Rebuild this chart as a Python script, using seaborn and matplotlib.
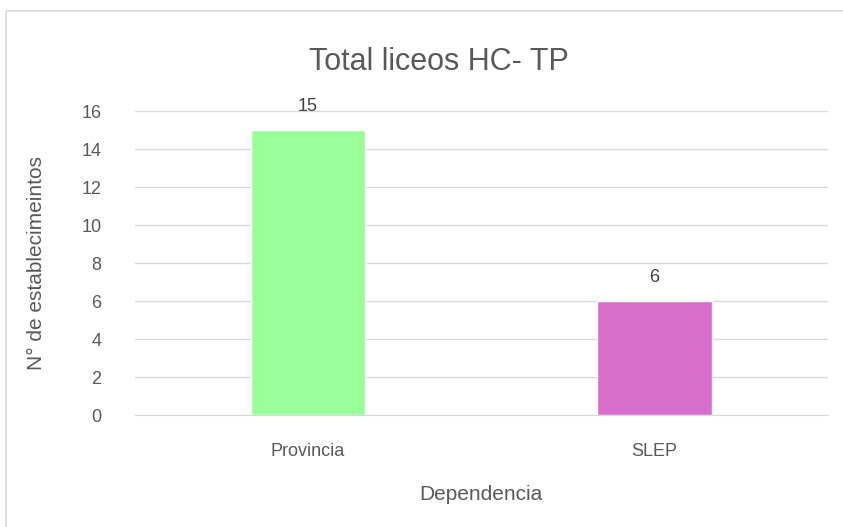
import pandas as pd
import matplotlib.pyplot as plt
import seaborn as sns
from matplotlib.patches import Rectangle

# Data
dependencias = ['Provincia', 'SLEP']
totales = [15, 6]
colores = ['#99FF99', '#D86ECC']

df = pd.DataFrame({'Dependencia': dependencias, 'Total': totales})

sns.set_style('white')
plt.rcParams['font.family'] = ['Liberation Sans', 'DejaVu Sans']
texto = '#595959'

fig = plt.figure(figsize=(8.43, 5.27), dpi=100)
ax = fig.add_axes([0.160, 0.2125, 0.822, 0.5765])

sns.barplot(data=df, x='Dependencia', y='Total', hue='Dependencia',
            palette=colores, width=0.33, legend=False, ax=ax, saturation=1)

for c in ax.containers:
    ax.bar_label(c, padding=11, fontsize=13, color='#404040')

ax.set_ylim(0, 16)
ax.set_yticks(range(0, 17, 2))
ax.set_xlim(-0.5, 1.5)
ax.yaxis.grid(True, color='#D9D9D9', linewidth=1)
ax.set_axisbelow(True)
for s in ['top', 'right', 'left']:
    ax.spines[s].set_visible(False)
ax.spines['bottom'].set_color('#D9D9D9')
ax.tick_params(axis='both', length=0, labelsize=13, labelcolor=texto)
ax.tick_params(axis='x', pad=20)
ax.tick_params(axis='y', pad=24)

ax.set_xlabel('Dependencia', fontsize=15, color=texto, labelpad=18)
ax.set_ylabel('N° de establecimeintos', fontsize=15, color=texto, labelpad=22)
ax.yaxis.set_label_coords(-0.128, 0.5)
fig.text(0.521, 0.882, 'Total liceos HC- TP', ha='center', va='center',
         fontsize=22, color=texto)

# Chart border
fig.add_artist(Rectangle((6 / 843, -0.01), 1.0, 1 - 11 / 527 + 0.01,
                         transform=fig.transFigure, fill=False,
                         edgecolor='#D9D9D9', linewidth=1.2))

plt.savefig('out.png', dpi=100)
plt.close()
